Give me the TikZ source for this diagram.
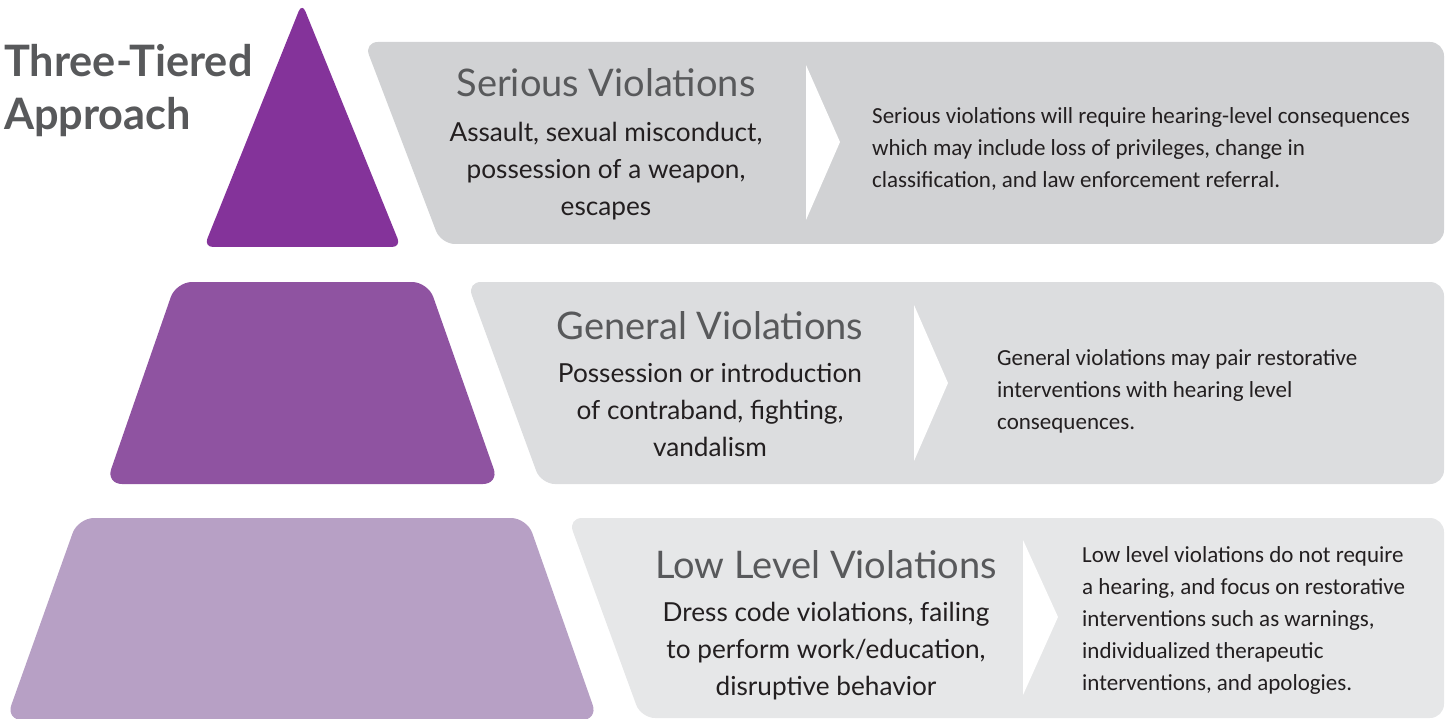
\documentclass[tikz,border=0pt]{standalone}
\usepackage{fontspec}
\setmainfont{Lato}
\newfontfamily\narrowfont{Carlito}
\definecolor{tierA}{HTML}{84339A}
\definecolor{tierB}{HTML}{8F53A1}
\definecolor{tierC}{HTML}{B7A0C5}
\definecolor{bandA}{HTML}{D1D2D4}
\definecolor{bandB}{HTML}{DCDDDF}
\definecolor{bandC}{HTML}{E6E7E8}
\definecolor{headgray}{HTML}{58595B}
\definecolor{bodyblack}{HTML}{231F20}
\tikzset{
  titletext/.style={anchor=base west, inner sep=0pt, text=headgray, font=\fontsize{43.3}{50}\selectfont\bfseries},
  headtext/.style={anchor=base, inner sep=0pt, text=headgray, font=\fontsize{38}{40}\selectfont},
  bodytext/.style={anchor=base, inner sep=0pt, text=bodyblack, font=\fontsize{26.2}{37}\selectfont},
  sidetext/.style={anchor=base west, inner sep=0pt, text=bodyblack, font=\narrowfont\fontsize{23}{32}\selectfont},
  chevron/.style={fill=white},
}
\begin{document}
\begin{tikzpicture}[x=1pt,y=-1pt]
\useasboundingbox (0,0) rectangle (1447,719);
% pyramid tiers
\fill[tierA, rounded corners=9pt] (302,3) -- (401,247) -- (204,247) -- cycle;
\fill[tierB, rounded corners=16pt] (176,282) -- (428,282) -- (499,484) -- (106,484) -- cycle;
\fill[tierC, rounded corners=16pt] (78,518) -- (527,518) -- (598,720) -- (6,720) -- cycle;
% bands
\fill[bandA, rounded corners=14pt] (364,42) -- (1444,42) -- (1444,244) -- (441,244) -- cycle;
\fill[bandB, rounded corners=14pt] (467,282) -- (1444,282) -- (1444,484) -- (541,484) -- cycle;
\fill[bandC, rounded corners=14pt] (568,518) -- (1444,518) -- (1444,718) -- (641,718) -- cycle;
% chevrons
\fill[chevron] (806,65) -- (840,142) -- (806,220) -- cycle;
\fill[chevron] (914,305) -- (948,383) -- (914,461) -- cycle;
\fill[chevron] (1023,540) -- (1058,617) -- (1023,695) -- cycle;
% title
\node[titletext] (t1) at (4,77) {Three-Tiered};
\node[titletext] (t2) at (4,130) {Approach};
% serious
\node[headtext] (h1) at (606,97) {Serious Violations};
\node[bodytext] (b1a) at (606,142) {Assault, sexual misconduct,};
\node[bodytext] (b1b) at (606,179) {possession of a weapon,};
\node[bodytext] (b1c) at (606,216) {escapes};
\node[sidetext] (s1a) at (872,124) {Serious violations will require hearing-level consequences};
\node[sidetext] (s1b) at (872,156) {which may include loss of privileges, change in};
\node[sidetext] (s1c) at (872,188) {classification, and law enforcement referral.};
% general
\node[headtext] (h2) at (710,339) {General Violations};
\node[bodytext] (b2a) at (710,382) {Possession or introduction};
\node[bodytext] (b2b) at (710,419) {of contraband, fighting,};
\node[bodytext] (b2c) at (710,456) {vandalism};
\node[sidetext] (s2a) at (997,365) {General violations may pair restorative};
\node[sidetext] (s2b) at (997,397) {interventions with hearing level};
\node[sidetext] (s2c) at (997,429) {consequences.};
% low level
\node[headtext] (h3) at (826,578) {Low Level Violations};
\node[bodytext] (b3a) at (826,621) {Dress code violations, failing};
\node[bodytext] (b3b) at (826,658) {to perform work/education,};
\node[bodytext] (b3c) at (826,695) {disruptive behavior};
\node[sidetext] (s3a) at (1082,562) {Low level violations do not require};
\node[sidetext] (s3b) at (1082,594) {a hearing, and focus on restorative};
\node[sidetext] (s3c) at (1082,626) {interventions such as warnings,};
\node[sidetext] (s3d) at (1082,658) {individualized therapeutic};
\node[sidetext] (s3e) at (1082,690) {interventions, and apologies.};
\end{tikzpicture}
\end{document}
